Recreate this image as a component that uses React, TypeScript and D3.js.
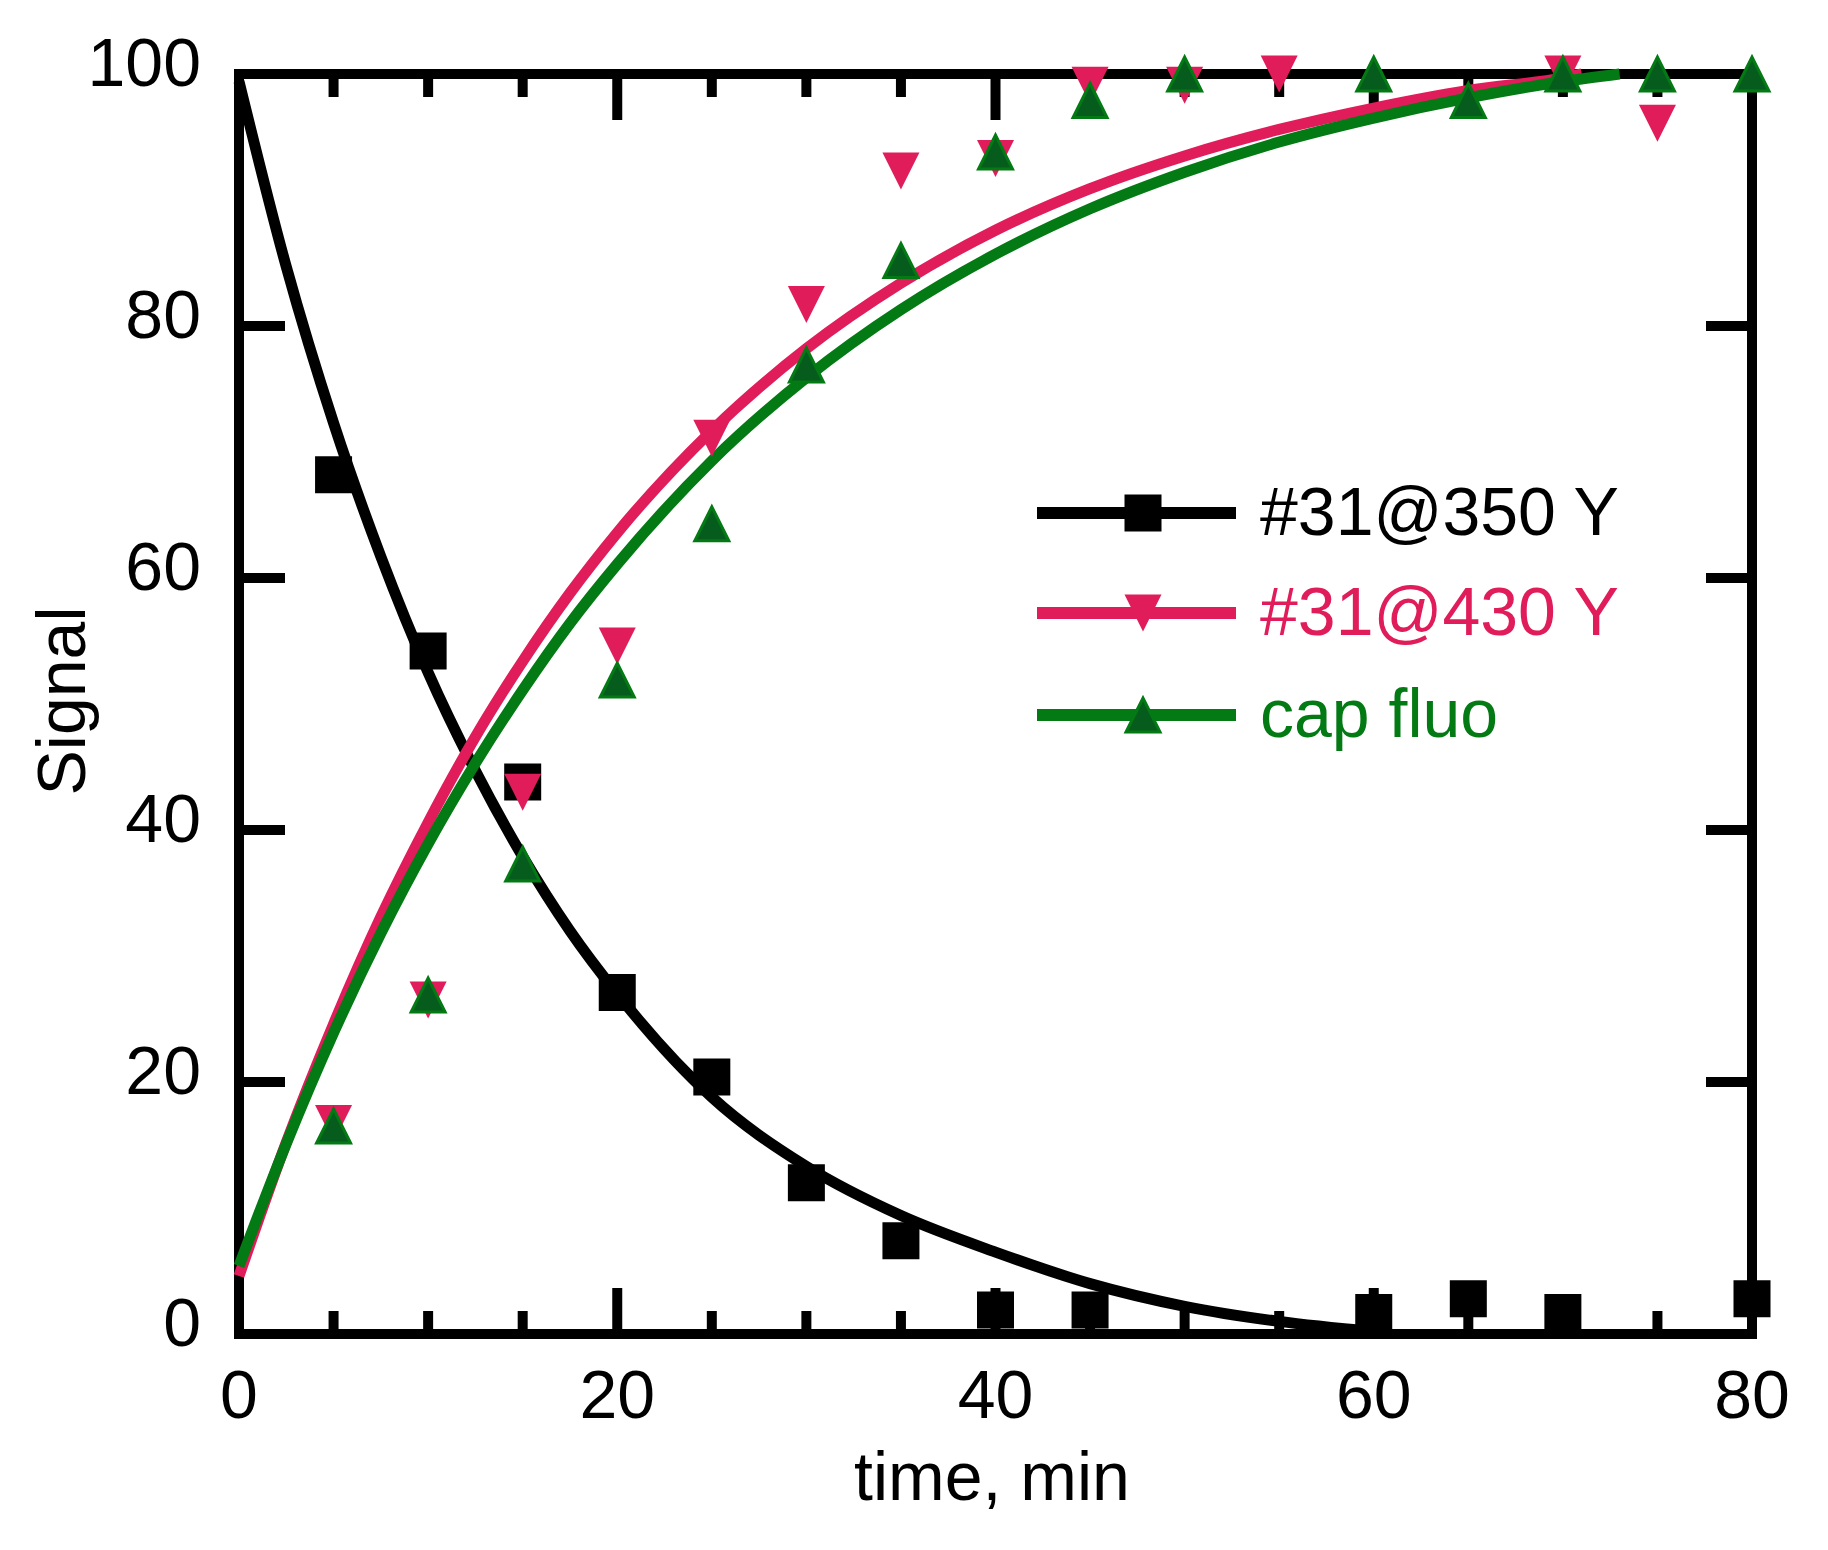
import React from "react";
import * as d3 from "d3";

// ---- data ----
const time350 = [5, 10, 15, 20, 25, 30, 35, 40, 45, 60, 65, 70, 80];
const val350 = [68.2, 54.2, 43.8, 27.1, 20.4, 12.0, 7.4, 1.9, 1.9, 1.7, 2.8, 1.7, 2.8];

const time430 = [5, 10, 15, 20, 25, 30, 35, 40, 45, 50, 55, 70, 75];
const val430 = [16.7, 26.5, 43.0, 54.6, 71.1, 81.7, 92.3, 93.3, 99.1, 99.1, 100, 100, 96.1];

const timeCap = [5, 10, 15, 20, 25, 30, 35, 40, 45, 50, 60, 65, 70, 75, 80];
const valCap = [16.5, 26.9, 37.3, 51.9, 64.3, 76.9, 85.2, 93.8, 97.9, 100, 100, 97.9, 100, 100, 100];

// fitted curves
const fit350T = [0, 2.5, 5, 7.5, 10, 12.5, 15, 17.5, 20, 25, 30, 35, 40, 45, 50, 55, 60];
const fit350V = [99.4, 84.7, 72.3, 61.7, 52.5, 44.7, 37.9, 32.0, 27.0, 18.8, 13.3, 9.4, 6.5, 4.0, 2.2, 1.0, 0.2];

const fit430T = [0, 2.5, 5, 7.5, 10, 12.5, 15, 17.5, 20, 25, 30, 35, 40, 45, 50, 55, 60, 65, 70, 71];
const fit430V = [4.6, 15.2, 24.6, 33.1, 40.6, 47.4, 53.4, 58.8, 63.6, 71.7, 78.2, 83.4, 87.6, 90.9, 93.5, 95.6, 97.3, 98.7, 99.7, 100];

const fitCapT = [0, 2.5, 5, 7.5, 10, 12.5, 15, 17.5, 20, 25, 30, 35, 40, 45, 50, 55, 60, 65, 70, 73];
const fitCapV = [5.4, 15.1, 23.9, 31.8, 38.9, 45.3, 51.1, 56.4, 61.1, 69.3, 75.9, 81.3, 85.7, 89.3, 92.2, 94.6, 96.5, 98.1, 99.4, 100];

const xTicks = [0, 20, 40, 60, 80];
const xMinor = d3.range(0, 81, 5);
const yTicks = [0, 20, 40, 60, 80, 100];

const legendLabels = ["#31@350 Y", "#31@430 Y", "cap fluo"];

const BLACK = "#000000";
const PINK = "#e01c5a";
const GREEN = "#037a13";
const GREEN_FILL = "#065c1c";

const FONT = "'Liberation Sans', Arial, Helvetica, sans-serif";

export default function App() {
  const W = 1828;
  const H = 1550;
  const x = d3.scaleLinear().domain([0, 80]).range([239, 1752]);
  const y = d3.scaleLinear().domain([0, 100]).range([1334, 74]);

  const line = d3
    .line<[number, number]>()
    .x((d) => x(d[0]))
    .y((d) => y(d[1]))
    .curve(d3.curveMonotoneX);

  const zip = (a: number[], b: number[]) => a.map((t, i) => [t, b[i]] as [number, number]);

  const S = 37;
  const squarePath = (cx: number, cy: number) =>
    `M${cx - S / 2},${cy - S / 2}h${S}v${S}h${-S}Z`;
  const downTri = (cx: number, cy: number) =>
    `M${cx - S / 2},${cy - S / 2}L${cx + S / 2},${cy - S / 2}L${cx},${cy + S / 2}Z`;
  const upTri = (cx: number, cy: number, s = S - 3) =>
    `M${cx - s / 2},${cy + s / 2}L${cx + s / 2},${cy + s / 2}L${cx},${cy - s / 2}Z`;

  const fs = 68;
  const [x0, x1] = x.range();
  const [y0, y1] = y.range();

  const legendRows = [513, 613, 715];
  const legendColors = [BLACK, PINK, GREEN];

  return (
    <svg
      width={W}
      height={H}
      viewBox={`0 0 ${W} ${H}`}
      style={{ position: "absolute", left: 0, top: 0, background: "#fff" }}
      fontFamily={FONT}
    >
      <rect x={0} y={0} width={W} height={H} fill="#fff" />
      {/* frame */}
      <rect x={x0} y={y1} width={x1 - x0} height={y0 - y1} fill="none" stroke={BLACK} strokeWidth={10} />
      {/* x ticks bottom & top */}
      {xMinor.map((t) => {
        const len = t % 20 === 0 ? 46 : 23;
        return (
          <g key={"xt" + t}>
            <line x1={x(t)} x2={x(t)} y1={y0} y2={y0 - len} stroke={BLACK} strokeWidth={10} />
            <line x1={x(t)} x2={x(t)} y1={y1} y2={y1 + len} stroke={BLACK} strokeWidth={10} />
          </g>
        );
      })}
      {/* y ticks left & right */}
      {yTicks.map((v) => (
        <g key={"yt" + v}>
          <line x1={x0} x2={x0 + 46} y1={y(v)} y2={y(v)} stroke={BLACK} strokeWidth={10} />
          <line x1={x1} x2={x1 - 46} y1={y(v)} y2={y(v)} stroke={BLACK} strokeWidth={10} />
        </g>
      ))}
      {/* tick labels */}
      {xTicks.map((t) => (
        <text key={"xl" + t} x={x(t)} y={1418} fontSize={fs} textAnchor="middle" fill={BLACK}>
          {t}
        </text>
      ))}
      {yTicks.map((v) => (
        <text key={"yl" + v} x={201} y={y(v) + 12} fontSize={fs} textAnchor="end" fill={BLACK}>
          {v}
        </text>
      ))}
      {/* axis titles */}
      <text x={992} y={1500} fontSize={fs} textAnchor="middle" fill={BLACK}>
        time, min
      </text>
      <text transform="translate(85,701) rotate(-90)" fontSize={fs} textAnchor="middle" fill={BLACK}>
        Signal
      </text>

      {/* fitted curves */}
      <path d={line(zip(fit350T, fit350V)) || ""} fill="none" stroke={BLACK} strokeWidth={11} />
      <path d={line(zip(fit430T, fit430V)) || ""} fill="none" stroke={PINK} strokeWidth={11} />
      <path d={line(zip(fitCapT, fitCapV)) || ""} fill="none" stroke={GREEN} strokeWidth={11} />

      {/* markers */}
      {time350.map((t, i) => (
        <path key={"m350" + i} d={squarePath(x(t), y(val350[i]))} fill={BLACK} />
      ))}
      {time430.map((t, i) => (
        <path key={"m430" + i} d={downTri(x(t), y(val430[i]))} fill={PINK} />
      ))}
      {timeCap.map((t, i) => (
        <path
          key={"mcap" + i}
          d={upTri(x(t), y(valCap[i]))}
          fill={GREEN_FILL}
          stroke={GREEN}
          strokeWidth={3}
          strokeLinejoin="miter"
        />
      ))}

      {/* legend */}
      {legendLabels.map((lab, i) => {
        const ly = legendRows[i];
        const c = legendColors[i];
        const mx = 1143;
        return (
          <g key={"lg" + i}>
            <line x1={1037} x2={1236} y1={ly} y2={ly} stroke={c} strokeWidth={12} />
            {i === 0 && <path d={squarePath(mx, ly)} fill={BLACK} />}
            {i === 1 && <path d={downTri(mx, ly)} fill={PINK} />}
            {i === 2 && (
              <path d={upTri(mx, ly)} fill={GREEN_FILL} stroke={GREEN} strokeWidth={3} />
            )}
            <text x={1260} y={ly + 22} fontSize={fs} fill={c}>
              {lab}
            </text>
          </g>
        );
      })}
    </svg>
  );
}
